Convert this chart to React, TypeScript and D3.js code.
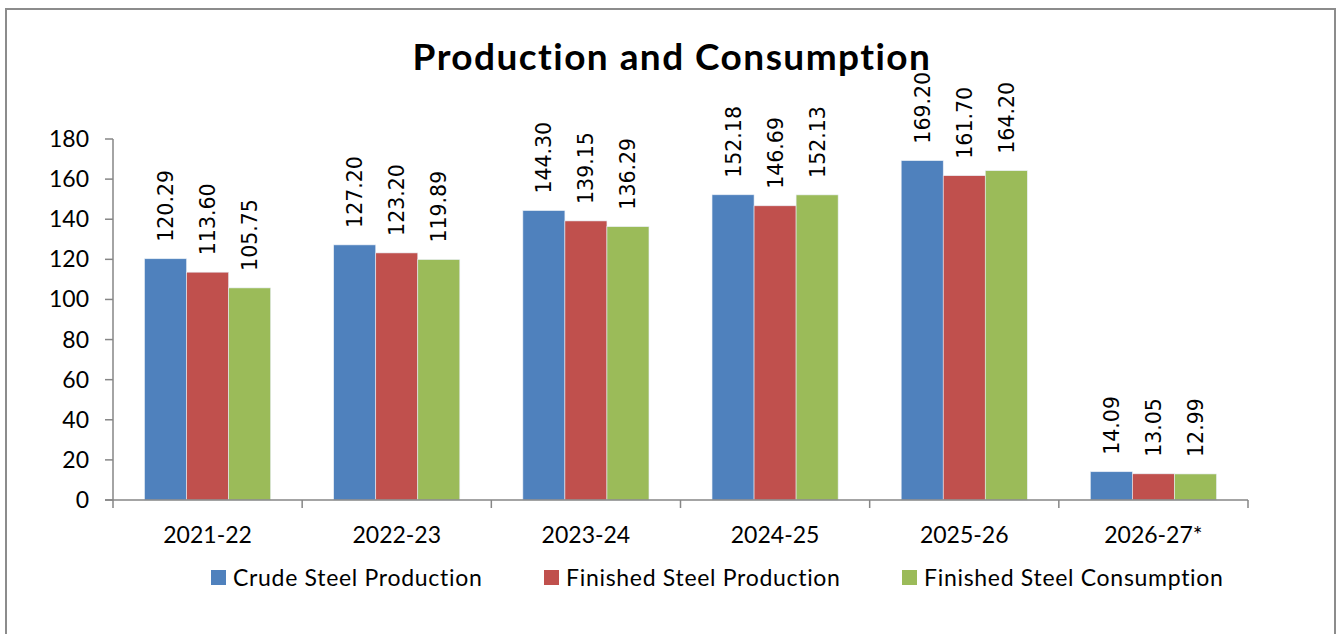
import React from "react";
import * as d3 from "d3";

const categories = ["2021-22", "2022-23", "2023-24", "2024-25", "2025-26", "2026-27*"];
const seriesNames = ["Crude Steel Production", "Finished Steel Production", "Finished Steel Consumption"];
const crude = [120.29, 127.2, 144.3, 152.18, 169.2, 14.09];
const finishedProd = [113.6, 123.2, 139.15, 146.69, 161.7, 13.05];
const finishedCons = [105.75, 119.89, 136.29, 152.13, 164.2, 12.99];
const yTicks = [0, 20, 40, 60, 80, 100, 120, 140, 160, 180];
const colors = ["#4F81BD", "#C0504D", "#9BBB59"];

export default function App() {
  const W = 1339, H = 634;
  const left = 113, right = 1248, y0 = 500, yTop = 139;
  const x = d3.scaleBand<string>().domain(categories).range([left, right]).paddingInner(0.3333).paddingOuter(0.1667);
  const inner = d3.scaleBand<number>().domain([0, 1, 2]).range([0, x.bandwidth()]);
  const y = d3.scaleLinear().domain([0, 180]).range([y0, yTop]);
  const series = [crude, finishedProd, finishedCons];
  const step = (right - left) / categories.length;
  const legendX = [211, 544, 902];
  const axisColor = "#868686";
  const font = "Lato, 'Open Sans', sans-serif";

  return (
    <svg width={W} height={H} style={{ position: "absolute", left: 0, top: 0 }}>
      <rect x={0} y={0} width={W} height={H} fill="#fff" />
      <rect x={6} y={9} width={1329} height={700} fill="#fff" stroke="#8c8c8c" strokeWidth={2} />
      <text x={672} y={70} textAnchor="middle" fontFamily={font} fontWeight="bold" fontSize={37}
        letterSpacing={1.45} style={{ fontVariantLigatures: "none" }} fill="#000">
        Production and Consumption
      </text>
      {/* bars */}
      {series.map((vals, si) =>
        vals.map((v, ci) => {
          const bx = (x(categories[ci]) as number) + (inner(si) as number);
          return (
            <rect key={`b${si}-${ci}`} x={bx} y={y(v)} width={inner.bandwidth()} height={y0 - y(v)}
              fill={colors[si]} stroke="#e8eef6" strokeWidth={0.6} />
          );
        })
      )}
      {/* labels */}
      {series.map((vals, si) =>
        vals.map((v, ci) => {
          const cx = (x(categories[ci]) as number) + (inner(si) as number) + inner.bandwidth() / 2;
          const ty = y(v) - 17;
          return (
            <text key={`l${si}-${ci}`} transform={`translate(${cx + 7.5},${ty}) rotate(-90)`}
              fontFamily="'DejaVu Sans', Verdana, sans-serif" fontSize={20.5} fill="#000">
              {v.toFixed(2)}
            </text>
          );
        })
      )}
      {/* y axis */}
      <line x1={left} x2={left} y1={yTop} y2={y0} stroke={axisColor} strokeWidth={1.5} />
      {yTicks.map((t) => (
        <g key={`yt${t}`}>
          <line x1={left - 8} x2={left} y1={y(t)} y2={y(t)} stroke={axisColor} strokeWidth={1.5} />
          <text x={left - 24} y={y(t)} dy="0.35em" textAnchor="end" fontFamily={font} fontSize={23} fill="#000">
            {t}
          </text>
        </g>
      ))}
      {/* x axis */}
      <line x1={left - 8} x2={right} y1={y0} y2={y0} stroke={axisColor} strokeWidth={1.5} />
      {d3.range(categories.length + 1).map((i) => (
        <line key={`xt${i}`} x1={left + i * step} x2={left + i * step} y1={y0} y2={y0 + 8} stroke={axisColor} strokeWidth={1.5} />
      ))}
      {categories.map((c) => (
        <text key={`xl${c}`} x={(x(c) as number) + x.bandwidth() / 2} y={535} dy="0.35em" textAnchor="middle"
          fontFamily={font} fontSize={23} fill="#000">
          {c}
        </text>
      ))}
      {/* legend */}
      {seriesNames.map((n, i) => (
        <g key={`lg${i}`}>
          <rect x={legendX[i]} y={570} width={15} height={15} fill={colors[i]} />
          <text x={legendX[i] + 22} y={578} dy="0.35em" fontFamily={font} fontSize={23} letterSpacing={0.7} fill="#000">
            {n}
          </text>
        </g>
      ))}
    </svg>
  );
}
